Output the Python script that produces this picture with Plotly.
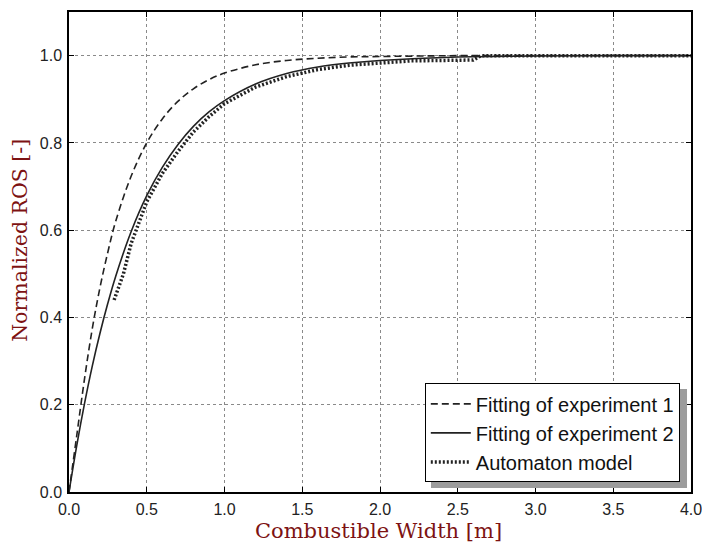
import plotly.graph_objects as go

# Fitting of experiment 1 (dashed)
x_exp1 = [0.0, 0.05, 0.1, 0.15, 0.2, 0.25, 0.3, 0.4, 0.5, 0.6, 0.7, 0.8, 0.9, 1.0,
          1.2, 1.4, 1.6, 1.8, 2.0, 2.5, 3.0, 3.5, 4.0]
y_exp1 = [0.0, 0.13, 0.26, 0.375, 0.47, 0.55, 0.62, 0.724, 0.80, 0.855, 0.895, 0.924,
          0.945, 0.96, 0.979, 0.989, 0.994, 0.997, 0.998, 1.0, 1.0, 1.0, 1.0]

# Fitting of experiment 2 (solid)
x_exp2 = [0.0, 0.05, 0.1, 0.15, 0.2, 0.25, 0.3, 0.4, 0.5, 0.6, 0.7, 0.8, 0.9, 1.0,
          1.2, 1.4, 1.6, 1.8, 2.0, 2.5, 3.0, 3.5, 4.0]
y_exp2 = [0.0, 0.107, 0.203, 0.289, 0.365, 0.433, 0.494, 0.597, 0.679, 0.744, 0.796,
          0.838, 0.871, 0.897, 0.935, 0.959, 0.974, 0.983, 0.989, 0.997, 0.999, 1.0, 1.0]

# Automaton model (dotted)
x_auto = [0.29, 0.35, 0.4, 0.5, 0.6, 0.7, 0.8, 0.9, 1.0, 1.2, 1.4, 1.6, 1.8, 2.0,
          2.2, 2.4, 2.6, 2.65, 3.0, 3.5, 4.0]
y_auto = [0.44, 0.50, 0.57, 0.665, 0.73, 0.78, 0.825, 0.86, 0.89, 0.928, 0.952, 0.968,
          0.978, 0.983, 0.988, 0.989, 0.99, 1.0, 1.0, 1.0, 1.0]

x_ticks = [0.0, 0.5, 1.0, 1.5, 2.0, 2.5, 3.0, 3.5, 4.0]
y_ticks = [0.0, 0.2, 0.4, 0.6, 0.8, 1.0]

x_title = "Combustible Width [m]"
y_title = "Normalized ROS [-]"
title_color = "#7d1212"

fig = go.Figure()
fig.add_trace(go.Scatter(x=x_exp1, y=y_exp1, mode="lines", name="Fitting of experiment 1",
                         line=dict(color="#222222", width=1.6, dash="7px,4px", shape="spline")))
fig.add_trace(go.Scatter(x=x_exp2, y=y_exp2, mode="lines", name="Fitting of experiment 2",
                         line=dict(color="#222222", width=1.6, shape="spline")))
fig.add_trace(go.Scatter(x=x_auto, y=y_auto, mode="lines", name="Automaton model",
                         line=dict(color="#222222", width=3.5, dash="2px,2px")))

# legend drop shadow
fig.add_shape(type="rect", xref="paper", yref="paper",
              x0=0.582, x1=0.9936, y0=0.0083, y1=0.2146,
              fillcolor="#9c9c9c", line=dict(width=0), layer="above")

axis_common = dict(showline=True, linecolor="black", linewidth=1.5, mirror="allticks",
                   ticks="inside", ticklen=5, tickcolor="black", tickwidth=1,
                   showgrid=True, gridcolor="#8a8a8a", griddash="dot", gridwidth=1,
                   zeroline=False, tickformat=".1f", automargin=False,
                   ticklabeloverflow="allow",
                   tickfont=dict(family="Liberation Sans, Arial", size=16, color="#222222"))

fig.update_layout(
    width=702, height=543,
    margin=dict(l=69, r=11, t=12, b=51),
    paper_bgcolor="white", plot_bgcolor="white",
    showlegend=True,
    legend=dict(x=0.982, y=0.02, xanchor="right", yanchor="bottom",
                bgcolor="white", bordercolor="black", borderwidth=1,
                font=dict(family="Liberation Sans, Arial", size=20, color="#111111"),
                tracegroupgap=0, itemwidth=40),
    xaxis=dict(range=[0, 4], tickvals=x_ticks, ticklabelstandoff=2, **axis_common),
    yaxis=dict(range=[0, 1.1], tickvals=y_ticks, ticklabelstandoff=2, **axis_common),
    annotations=[
        dict(text=x_title, xref="paper", yref="paper", x=0.498, y=-0.081,
             xanchor="center", yanchor="middle", showarrow=False,
             font=dict(family="DejaVu Serif", size=21, color=title_color)),
        dict(text=y_title, xref="paper", yref="paper", x=-0.079, y=0.525,
             xanchor="center", yanchor="middle", showarrow=False, textangle=-90,
             font=dict(family="DejaVu Serif", size=20.5, color=title_color)),
    ],
)

fig.write_html("out.html")
